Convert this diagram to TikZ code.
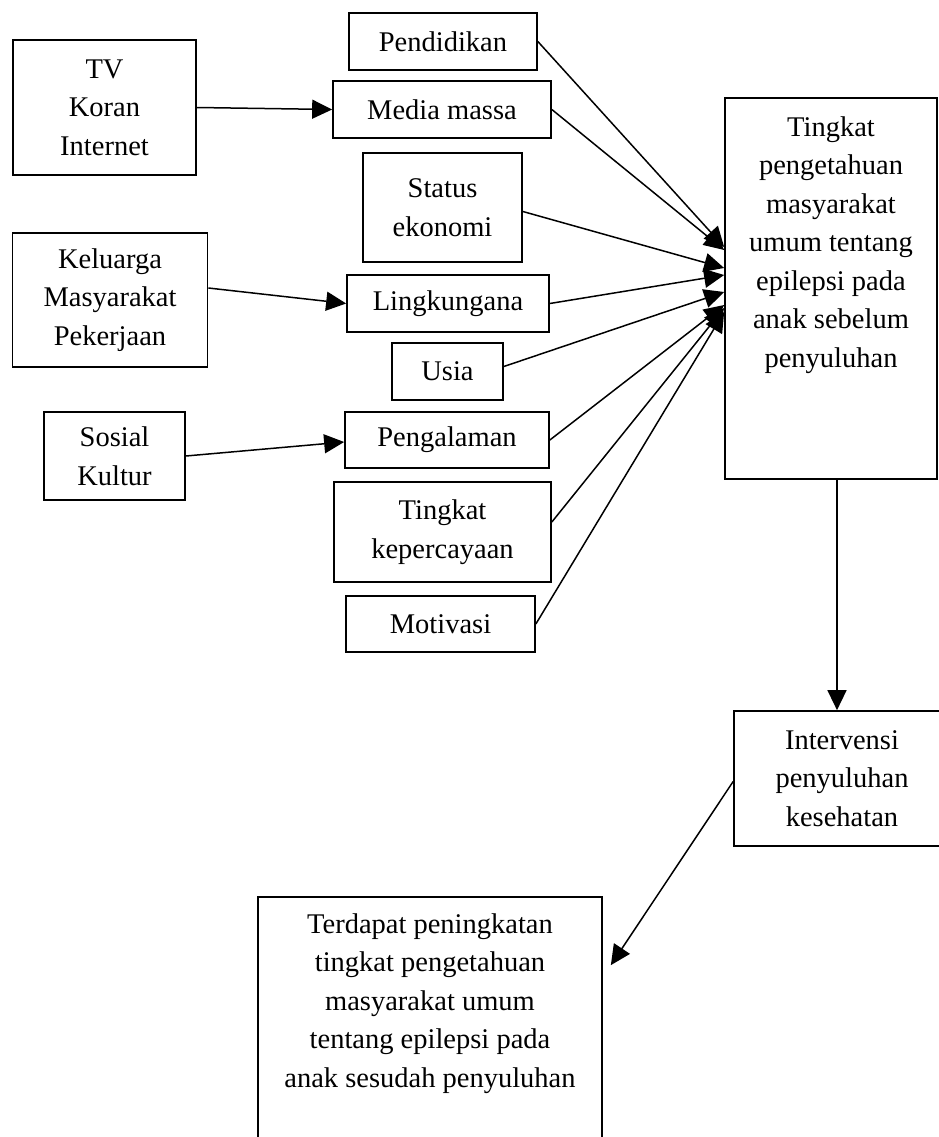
\documentclass[tikz,border=0pt]{standalone}
\usepackage{fontspec}
\setmainfont{Liberation Serif}
\usetikzlibrary{arrows.meta}
\begin{document}
\begin{tikzpicture}[x=1pt,y=-1pt,
  nbox/.style 2 args={draw, line width=1.7pt, inner sep=0pt, align=center,
    minimum width=#1, minimum height=#2, font=\fontsize{28.5}{38.5}\selectfont},
  tbox/.style={draw, line width=1.7pt, inner sep=0pt, font=\fontsize{28.5}{38.5}\selectfont},
  arr/.style={line width=1.5pt, -{Triangle[length=20pt,width=19pt]}}]
\useasboundingbox (0,0) rectangle (939,1137);
\clip (0,0) rectangle (939,1137);

% left column
\node[nbox={183pt}{135pt}] (tv) at (104.5,107.5) {TV\\Koran\\Internet};
\node[nbox={195pt}{134pt}] (kel) at (110,300) {Keluarga\\Masyarakat\\Pekerjaan};
\node[nbox={141pt}{88pt}] (sos) at (114.5,456) {Sosial\\Kultur};

% middle column
\node[nbox={188pt}{57pt}] (pend) at (443,41.5) {Pendidikan};
\node[nbox={218pt}{57pt}] (media) at (442,109.5) {Media massa};
\node[nbox={159pt}{109pt}] (status) at (442.5,207.5) {Status\\ekonomi};
\node[nbox={202pt}{57pt}] (ling) at (448,303.5) {Lingkungana};
\node[nbox={111pt}{57pt}] (usia) at (447.5,371.5) {Usia};
\node[nbox={204pt}{56pt}] (peng) at (447,440) {Pengalaman};
\node[nbox={217pt}{100pt}] (tk) at (442.5,532) {Tingkat\\kepercayaan};
\node[nbox={189pt}{56pt}] (mot) at (440.5,624) {Motivasi};

% right column
\node[tbox] (big) at (831,288.5) {\parbox[c][381pt][t]{212pt}{\centering\rule{0pt}{38pt}Tingkat\\pengetahuan\\masyarakat\\umum tentang\\epilepsi pada\\anak sebelum\\penyuluhan}};
\node[nbox={216pt}{135pt}] (inter) at (842,778.5) {Intervensi\\penyuluhan\\kesehatan};
\node[tbox] (res) at (430,1028.5) {\parbox[c][263pt][t]{344pt}{\centering\rule{0pt}{36pt}Terdapat peningkatan\\tingkat pengetahuan\\masyarakat umum\\tentang epilepsi pada\\anak sesudah penyuluhan}};

% left to middle
\draw[arr] (tv.east) -- (media.west);
\draw[arr] ([yshift=12pt]kel.east) -- (ling.west);
\draw[arr] (sos.east) -- ([yshift=-2pt]peng.west);

% middle to big box
\draw[arr] (pend.east) -- (big.west |- 0,247);
\draw[arr] (media.east) -- (big.west |- 0,250);
\draw[arr] ([yshift=-4pt]status.east) -- (big.west |- 0,268);
\draw[arr] (ling.east) -- (big.west |- 0,275);
\draw[arr] ([yshift=5pt]usia.east) -- (big.west |- 0,292);
\draw[arr] (peng.east) -- (big.west |- 0,305);
\draw[arr] ([yshift=10pt]tk.east) -- (big.west |- 0,308);
\draw[arr] (mot.east) -- (big.west |- 0,312);

% down the right side
\draw[arr] ([xshift=-5pt]inter.north |- big.south) -- ([xshift=-5pt]inter.north);
\coordinate (rtip) at ([xshift=8pt,yshift=-69pt]res.north east);
\draw[arr] ([yshift=-3pt]inter.west) -- (rtip);
\end{tikzpicture}
\end{document}
